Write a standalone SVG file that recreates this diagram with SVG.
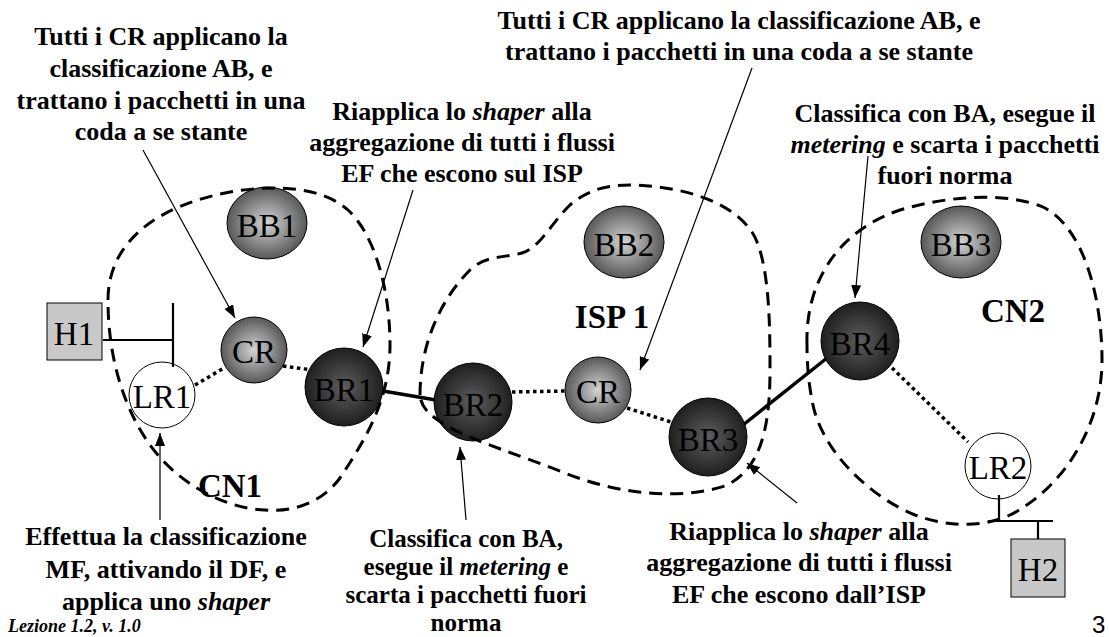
<svg xmlns="http://www.w3.org/2000/svg" width="1109" height="637" viewBox="0 0 1109 637">
<defs>
<radialGradient id="gGray" cx="50%" cy="50%" r="50%">
<stop offset="0" stop-color="#d4d4d4"/>
<stop offset="1" stop-color="#585858"/>
</radialGradient>
<radialGradient id="gDark" cx="50%" cy="50%" r="50%">
<stop offset="0" stop-color="#5e5e5e"/>
<stop offset="1" stop-color="#1f1f1f"/>
</radialGradient>
<marker id="arr" markerUnits="userSpaceOnUse" markerWidth="13" markerHeight="10" refX="13" refY="5" orient="auto" viewBox="0 0 13 10">
<path d="M0,0 L13,5 L0,10 z" fill="#000"/>
</marker>
<style>
.gray{fill:url(#gGray);stroke:#000;stroke-width:1}
.dark{fill:url(#gDark);stroke:#000;stroke-width:1}
.lr{fill:#fff;stroke:#000;stroke-width:1}
.host{fill:#c8c8c8;stroke:#000;stroke-width:1}
.lbl{font-family:"Liberation Serif","Times New Roman",serif;font-size:33px;text-anchor:middle;fill:#000}
.reg{font-family:"Liberation Serif","Times New Roman",serif;font-size:33px;font-weight:bold;text-anchor:middle;fill:#000}
.note{font-family:"Liberation Serif","Times New Roman",serif;font-size:26px;font-weight:bold;text-anchor:middle;fill:#000}
.small{font-size:25px}
.it{font-style:italic}
.region{fill:none;stroke:#000;stroke-width:3;stroke-dasharray:13 8}
.dot{stroke:#000;stroke-width:3.5;stroke-dasharray:3.5 3.5;fill:none}
.solid{stroke:#000;stroke-width:3.5;fill:none}
.wire{stroke:#000;stroke-width:2.2;fill:none}
.call{stroke:#000;stroke-width:1.2;fill:none;marker-end:url(#arr)}
</style>
</defs>
<rect x="0" y="0" width="1109" height="637" fill="#fff"/>

<g id="links">
<line class="dot" x1="195" y1="385" x2="224" y2="368"/>
<line class="dot" x1="283" y1="366" x2="312" y2="370"/>
<line class="solid" x1="383" y1="391" x2="436" y2="400"/>
<line class="dot" x1="512" y1="392" x2="565" y2="391"/>
<line class="dot" x1="627" y1="408" x2="671" y2="422"/>
<line class="solid" x1="743" y1="425" x2="827" y2="358"/>
<line class="dot" x1="887" y1="363" x2="968" y2="442"/>
</g>

<g id="BB1"><ellipse class="gray" cx="267" cy="223" rx="40" ry="36"/><text class="lbl" x="267" y="237">BB1</text></g>
<g id="BB2"><ellipse class="gray" cx="624" cy="242" rx="40" ry="36"/><text class="lbl" x="624" y="256">BB2</text></g>
<g id="BB3"><ellipse class="gray" cx="961" cy="242" rx="40" ry="36"/><text class="lbl" x="961" y="256">BB3</text></g>
<g id="CR1"><circle class="gray" cx="254" cy="350" r="33"/><text class="lbl" x="254" y="363">CR</text></g>
<g id="CR2"><circle class="gray" cx="598" cy="390" r="33"/><text class="lbl" x="598" y="403">CR</text></g>
<g id="BR1"><circle class="dark" cx="344" cy="387" r="39"/><text class="lbl" x="344" y="401">BR1</text></g>
<g id="BR2"><circle class="dark" cx="473" cy="402" r="39"/><text class="lbl" x="473" y="416">BR2</text></g>
<g id="BR3"><circle class="dark" cx="708" cy="437" r="39"/><text class="lbl" x="708" y="451">BR3</text></g>
<g id="BR4"><circle class="dark" cx="860" cy="341" r="39"/><text class="lbl" x="860" y="355">BR4</text></g>
<g id="LR1"><circle class="lr" cx="162" cy="395" r="33"/><text class="lbl" x="162" y="408">LR1</text></g>
<g id="LR2"><circle class="lr" cx="998" cy="466" r="33"/><text class="lbl" x="998" y="479">LR2</text></g>
<g id="H1"><rect class="host" x="47" y="303" width="55" height="57"/><text class="lbl" x="74" y="345">H1</text></g>
<g id="H2"><rect class="host" x="1011" y="539" width="54" height="58"/><text class="lbl" x="1038" y="581">H2</text></g>

<g id="wires">
<line class="wire" x1="103" y1="340" x2="173" y2="340"/>
<line class="wire" x1="173" y1="303" x2="173" y2="367"/>
<line class="wire" x1="999" y1="495" x2="999" y2="521"/>
<line class="wire" x1="988" y1="521" x2="1053" y2="521"/>
<line class="wire" x1="1038" y1="521" x2="1038" y2="539"/>
</g>

<g id="regions">
<path id="CN1-area" class="region" d="M108 300 C108 240 160 205 230 192 C270 185 320 185 348 210 C375 235 390 290 390 345 C390 400 365 440 340 478 C320 505 290 512 265 510 C220 508 175 480 150 445 C125 410 108 360 108 300 Z"/>
<path id="ISP1-area" class="region" d="M420 395 C420 345 440 300 470 270 C485 255 505 258 522 253 C540 248 552 222 570 205 C590 188 610 185 630 185 C680 186 730 200 752 232 C770 260 770 330 770 370 C770 430 760 470 725 486 C680 500 620 495 565 473 C520 455 475 442 445 425 C430 415 421 408 420 395 Z"/>
<path id="CN2-area" class="region" d="M807 345 C805 280 840 230 900 210 C950 195 1010 192 1045 208 C1085 230 1102 300 1102 360 C1102 430 1060 490 1010 515 C985 527 950 528 915 515 C870 497 820 450 812 400 C808 380 807 360 807 345 Z"/>
<text class="reg" x="230" y="497">CN1</text>
<text class="reg" x="612" y="328">ISP 1</text>
<text class="reg" x="1013" y="322">CN2</text>
</g>

<g id="callouts">
<line class="call" x1="143" y1="150" x2="235" y2="318"/>
<line class="call" x1="413" y1="190" x2="363" y2="347"/>
<line class="call" x1="752" y1="68" x2="640" y2="370"/>
<line class="call" x1="868" y1="156" x2="855" y2="298"/>
<line class="call" x1="797" y1="503" x2="747" y2="463"/>
<line class="call" x1="160" y1="520" x2="160" y2="433"/>
<line class="call" x1="466" y1="520" x2="460" y2="447"/>
</g>

<g id="notes">
<text class="note" x="161" y="45">Tutti i CR applicano la</text>
<text class="note" x="161" y="77">classificazione AB, e</text>
<text class="note" x="161" y="109">trattano i pacchetti in una</text>
<text class="note" x="161" y="140">coda a se stante</text>

<text class="note" x="462" y="120">Riapplica lo <tspan class="it">shaper</tspan> alla</text>
<text class="note" x="462" y="151">aggregazione di tutti i flussi</text>
<text class="note" x="462" y="182">EF che escono sul ISP</text>

<text class="note" x="739" y="29">Tutti i CR applicano la classificazione AB, e</text>
<text class="note" x="739" y="60">trattano i pacchetti in una coda a se stante</text>

<text class="note" x="945" y="122">Classifica con BA, esegue il</text>
<text class="note" x="945" y="153"><tspan class="it">metering</tspan> e scarta i pacchetti</text>
<text class="note" x="945" y="184">fuori norma</text>

<text class="note" x="166" y="545">Effettua la classificazione</text>
<text class="note" x="166" y="578">MF, attivando il DF, e</text>
<text class="note" x="166" y="610">applica uno <tspan class="it">shaper</tspan></text>

<text class="note small" x="466" y="547">Classifica con BA,</text>
<text class="note small" x="466" y="575">esegue il <tspan class="it">metering</tspan> e</text>
<text class="note small" x="466" y="603">scarta i pacchetti fuori</text>
<text class="note small" x="466" y="631">norma</text>

<text class="note" x="799" y="540">Riapplica lo <tspan class="it">shaper</tspan> alla</text>
<text class="note" x="799" y="571">aggregazione di tutti i flussi</text>
<text class="note" x="799" y="603">EF che escono dall’ISP</text>
</g>

<text x="8" y="632" style="font-family:'Liberation Serif','Times New Roman',serif;font-size:18px;font-weight:bold;font-style:italic">Lezione 1.2, v. 1.0</text>
<text x="1092" y="633" style="font-family:'Liberation Sans',Arial,sans-serif;font-size:24px">3</text>
</svg>
